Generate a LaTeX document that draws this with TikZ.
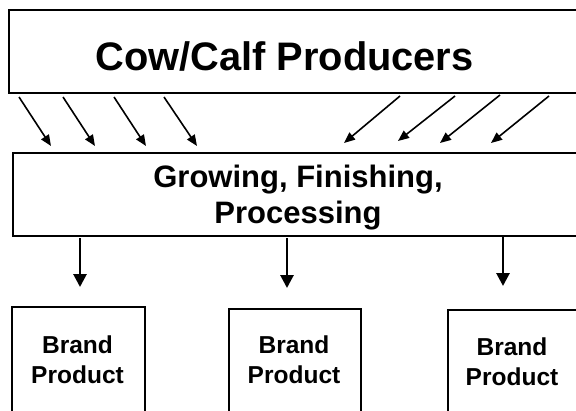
\documentclass[tikz,border=0pt]{standalone}
\usepackage{fontspec}
\setmainfont{Liberation Sans}
\usetikzlibrary{arrows.meta}
\begin{document}
\begin{tikzpicture}[x=1pt,y=-1pt,
  box/.style={draw=black,line width=1.6pt,fill=white,inner sep=0pt,anchor=north west},
  lbl/.style={anchor=base,inner sep=0pt,font=\bfseries},
  diag/.style={line width=1.6pt,-{Triangle[length=11pt,width=9pt]}},
  down/.style={line width=2.8pt,-{Triangle[length=13pt,width=13pt]}}]
\useasboundingbox (0,0) rectangle (576,410);
\clip (0,0) rectangle (576,410);
\fill[white] (0,0) rectangle (576,410);
% boxes
\node[box,minimum width=592pt,minimum height=83pt] (top) at (8,9) {};
\node[box,minimum width=588pt,minimum height=83pt] (mid) at (12,152) {};
\node[box,minimum width=133pt,minimum height=130pt] (b1) at (11,306) {};
\node[box,minimum width=132pt,minimum height=130pt] (b2) at (228,308) {};
\node[box,minimum width=131pt,minimum height=130pt] (b3) at (447,309) {};
% texts
\node[lbl,font=\bfseries\fontsize{39.8}{45}\selectfont] (toptext) at (284.5,70) {Cow/Calf Producers};
\node[lbl,font=\bfseries\fontsize{31}{36}\selectfont] (midtexta) at (298,187) {Growing, Finishing,};
\node[lbl,font=\bfseries\fontsize{31}{36}\selectfont] (midtextb) at (298,223) {Processing};
\node[lbl,font=\bfseries\fontsize{24.5}{30}\selectfont] (b1a) at (77.5,353) {Brand};
\node[lbl,font=\bfseries\fontsize{24.5}{30}\selectfont] (b1b) at (77.5,383) {Product};
\node[lbl,font=\bfseries\fontsize{24.5}{30}\selectfont] (b2a) at (294,353) {Brand};
\node[lbl,font=\bfseries\fontsize{24.5}{30}\selectfont] (b2b) at (294,383) {Product};
\node[lbl,font=\bfseries\fontsize{24.5}{30}\selectfont] (b3a) at (512,355) {Brand};
\node[lbl,font=\bfseries\fontsize{24.5}{30}\selectfont] (b3b) at (512,385) {Product};
% diagonal arrows
\foreach \sx/\sy/\ex/\ey [count=\i] in {19/97/51/146, 63/97/95/146, 114/97/146/146, 164/97/197/146,
  400/96/344/143, 455/96/398/141, 500/95/440/143, 549/96/491/143} {
  \coordinate (as\i) at (\sx,\sy);
  \coordinate (ae\i) at (\ex,\ey);
  \draw[diag] (as\i) -- (ae\i);
}
% down arrows
\coordinate (d1s) at (80,238);  \coordinate (d1e) at (80,287);
\coordinate (d2s) at (287,238); \coordinate (d2e) at (287,288);
\coordinate (d3s) at (503,236); \coordinate (d3e) at (503,286);
\draw[down] (d1s) -- (d1e);
\draw[down] (d2s) -- (d2e);
\draw[down] (d3s) -- (d3e);
\end{tikzpicture}
\end{document}
